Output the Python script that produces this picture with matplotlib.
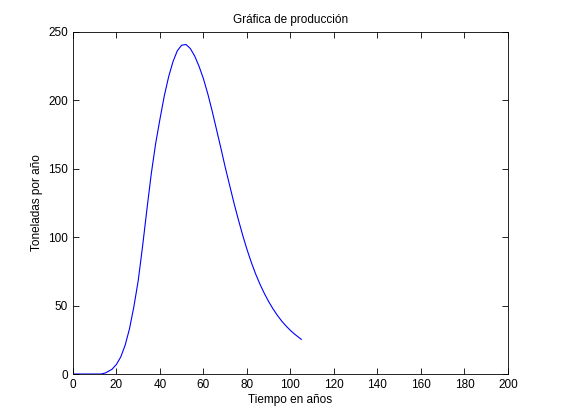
import numpy as np
import matplotlib
matplotlib.use('Agg')
from matplotlib import pyplot as plt

plt.rcParams['font.family'] = ['Liberation Sans', 'DejaVu Sans']

# valores
anios = [0, 5, 10, 13, 15, 18, 20, 22, 24, 26, 28, 30, 32, 34, 36, 38, 40, 42, 44, 46, 48, 50, 52,
         54, 56, 58, 60, 62, 64, 66, 68, 70, 72, 74, 76, 78, 80, 82, 84, 86, 88, 90, 92, 94, 96,
         98, 100, 102, 104, 105]
produccion = [0, 0, 0, 0, 0.8, 3.5, 7, 12.5, 21, 33, 49, 68, 93, 120, 146, 168, 186, 203, 217, 228,
              236, 240, 240.5, 237.5, 232, 224.5, 215.5, 204.5, 192, 178.5, 165, 151, 138, 125,
              113, 101.5, 91, 81.5, 73, 65.5, 58.8, 52.8, 47.5, 42.8, 38.6, 35, 31.8, 29, 26.5, 25.3]

fig = plt.figure(figsize=(5.61, 4.2), dpi=100)
ax = fig.add_axes([0.130, 0.1095, 0.7755, 0.8155])
ax.plot(anios, produccion, color='#0000ff', linewidth=0.8)

ax.set_xlim(0, 200)
ax.set_ylim(0, 250)
ax.set_xticks(np.arange(0, 201, 20))
ax.set_yticks(np.arange(0, 251, 50))
ax.tick_params(direction='in', top=True, right=True, labelsize=8.5, length=4, width=0.6)
for s in ax.spines.values():
    s.set_linewidth(0.6)

ax.set_title('Gráfica de producción', fontsize=8.5)
ax.set_xlabel('Tiempo en años', fontsize=8.5, labelpad=2)
ax.set_ylabel('Toneladas por año', fontsize=8.5)

fig.savefig('out.png', dpi=100)
